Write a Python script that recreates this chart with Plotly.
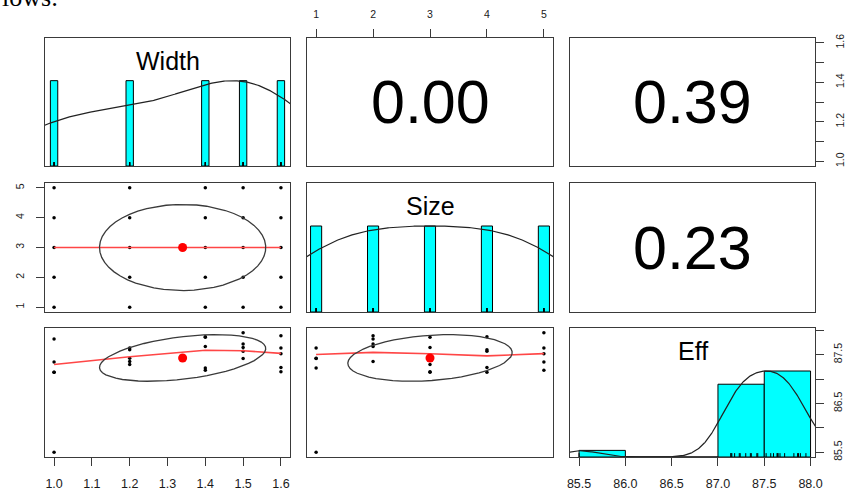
import numpy as np
import plotly.graph_objects as go

# ---------------- data ----------------
var_names = ["Width", "Size", "Eff"]
width_levels = [1.0, 1.2, 1.4, 1.5, 1.6]
size_levels = [1, 2, 3, 4, 5]
# Eff for Size 1..5 at each Width level
eff_w10 = [85.50, 87.82, 87.14, 87.14, 87.35]
eff_w12 = [87.43, 87.36, 87.30, 87.60, 87.64]
eff_w14 = [87.23, 87.67, 87.86, 87.87, 87.18]
eff_w15 = [87.42, 87.72, 87.65, 87.57, 87.95]
eff_w16 = [87.64, 87.89, 87.15, 87.24, 87.52]
corr_labels = ["0.00", "0.39", "0.23"]   # Width-Size, Width-Eff, Size-Eff
width_ticks = [1.0, 1.1, 1.2, 1.3, 1.4, 1.5, 1.6]
width_ticktext = ["1.0", "1.1", "1.2", "1.3", "1.4", "1.5", "1.6"]
width_right_text = ["1.0", "", "1.2", "", "1.4", "", "1.6"]
size_ticks = [1, 2, 3, 4, 5]
eff_ticks = [85.5, 86.0, 86.5, 87.0, 87.5, 88.0]
eff_ticktext = ["85.5", "86.0", "86.5", "87.0", "87.5", "88.0"]
eff_right_text = ["85.5", "", "86.5", "", "87.5", ""]
eff_breaks = [85.5, 86.0, 86.5, 87.0, 87.5, 88.0]

Width = np.repeat(width_levels, len(size_levels)).astype(float)
Size = np.tile(size_levels, len(width_levels)).astype(float)
Eff = np.array(eff_w10 + eff_w12 + eff_w14 + eff_w15 + eff_w16, float)
data = [Width, Size, Eff]

# ---------------- helpers (psych::pairs.panels logic) ----------------
def ext_range(v):
    lo, hi = v.min(), v.max()
    d = (hi - lo) * 0.04
    return [lo - d, hi + d]

def kde_curve(v):
    n = len(v)
    sd = v.std(ddof=1)
    q1, q3 = np.percentile(v, [25, 75])
    bw = 1.06 * min(sd, (q3 - q1) / 1.34) * n ** (-0.2) * 1.2
    grid = np.linspace(v.min() - 3 * bw, v.max() + 3 * bw, 512)
    dens = np.exp(-0.5 * ((grid[:, None] - v[None, :]) / bw) ** 2).sum(axis=1)
    return grid, dens / dens.max()

def lowess(x, y, f=2 / 3, iters=3):
    order = np.argsort(x, kind="stable")
    xs = np.asarray(x, float)[order]
    ys = np.asarray(y, float)[order]
    n = len(xs)
    ns = max(min(int(f * n + 1e-7), n), 2)
    rw = np.ones(n)
    fit = np.zeros(n)
    rng = xs[-1] - xs[0]
    for it in range(iters + 1):
        for i in range(n):
            d = np.abs(xs - xs[i])
            h = np.sort(d)[ns - 1]
            if h > 0:
                u = d / h
                w = np.where(d <= 0.001 * h, 1.0, np.where(d <= 0.999 * h, (1 - u ** 3) ** 3, 0.0))
            else:
                w = np.where(d == 0, 1.0, 0.0)
            w = w * rw
            if w.sum() <= 0:
                fit[i] = ys[i]
                continue
            w = w / w.sum()
            a = (w * xs).sum()
            c = (w * (xs - a) ** 2).sum()
            if h > 0 and np.sqrt(c) > 0.001 * rng:
                b = (xs[i] - a) / c
                w = w * (b * (xs - a) + 1)
            fit[i] = (w * ys).sum()
        if it == iters:
            break
        res = ys - fit
        cmad = 6 * np.median(np.abs(res))
        if cmad < 1e-7 * np.mean(np.abs(ys)):
            break
        r = np.abs(res) / cmad
        rw = np.where(r <= 0.001, 1.0, np.where(r > 0.999, 0.0, (1 - r ** 2) ** 2))
    return xs, fit

def ellipse(xm, ym, xsd, ysd, r, seg=51):
    ang = np.arange(seg + 1) * 2 * np.pi / seg
    uc = np.column_stack([np.cos(ang), np.sin(ang)])
    theta = np.sign(r) / np.sqrt(2) if abs(r) > 1e-12 else 1 / np.sqrt(2)
    shape = np.diag([np.sqrt(1 + r), np.sqrt(1 - r)]) @ np.array([[theta, theta], [-theta, theta]])
    e = uc @ shape
    return e[:, 0] * xsd + xm, e[:, 1] * ysd + ym

# ---------------- layout geometry ----------------
W, H = 845, 491
col_px = [(45, 290), (307, 553), (570, 815)]
row_px = [(38, 166), (183, 312), (328, 457)]
LINE = "#3a3a3a"
TXT = "#1a1a1a"
FONT = "Liberation Sans, Arial, sans-serif"

def xdom(c):
    return [col_px[c][0] / W, col_px[c][1] / W]

def ydom(r):
    return [1 - row_px[r][1] / H, 1 - row_px[r][0] / H]

def sid(k):
    return "" if k == 1 else str(k)

ranges = [ext_range(v) for v in data]

fig = go.Figure()
layout = dict(width=W, height=H, margin=dict(l=0, r=0, t=0, b=0, autoexpand=False),
              paper_bgcolor="white", plot_bgcolor="white", showlegend=False,
              font=dict(family=FONT, color=TXT), annotations=[])

def k_of(r, c):
    return r * 3 + c + 1

def axes(k):
    return dict(xaxis="x" + sid(k), yaxis="y" + sid(k))

for r in range(3):
    for c in range(3):
        k = k_of(r, c)
        xr = ranges[c]
        yr = [0, 1.5] if r == c else ranges[r]
        base = dict(showline=True, mirror=True, linecolor=LINE, linewidth=1.3,
                    showgrid=False, zeroline=False, showticklabels=False, ticks="",
                    fixedrange=True, automargin=False)
        layout["xaxis" + sid(k)] = dict(base, domain=xdom(c), range=xr, anchor="y" + sid(k))
        layout["yaxis" + sid(k)] = dict(base, domain=ydom(r), range=yr, anchor="x" + sid(k))
        # invisible anchor trace so every panel (and its axes) is drawn
        fig.add_trace(go.Scatter(x=[xr[0]], y=[yr[0]], mode="markers", marker=dict(opacity=0),
                                 hoverinfo="skip", **axes(k)))

tick_common = dict(ticks="outside", ticklen=8, tickwidth=1.2, tickcolor=LINE,
                   showticklabels=True)
layout["xaxis7"].update(tick_common, tickvals=width_ticks, ticktext=width_ticktext,
                        tickfont=dict(size=12.5, color=TXT), ticklabelstandoff=7)
layout["xaxis9"].update(tick_common, tickvals=eff_ticks, ticktext=eff_ticktext,
                        tickfont=dict(size=12.5, color=TXT), ticklabelstandoff=7)
layout["xaxis2"].update(tick_common, side="top", tickvals=size_ticks,
                        ticktext=[str(s) for s in size_ticks],
                        tickfont=dict(size=10.5, color=TXT), ticklabelstandoff=7)
layout["yaxis4"].update(tick_common, tickvals=size_ticks,
                        ticktext=[str(s) for s in size_ticks], tickangle=-90,
                        tickfont=dict(size=10.5, color=TXT), ticklabelstandoff=8)
layout["yaxis3"].update(tick_common, side="right", tickvals=width_ticks,
                        ticktext=width_right_text, tickangle=-90,
                        tickfont=dict(size=10.5, color=TXT), ticklabelstandoff=7)
layout["yaxis10"] = dict(overlaying="y9", anchor="x9", side="right", range=ranges[2],
                         showgrid=False, zeroline=False, showline=False, automargin=False,
                         tickvals=eff_ticks, ticktext=eff_right_text, tickangle=-90,
                         tickfont=dict(size=10.5, color=TXT), ticklabelstandoff=5,
                         fixedrange=True, **tick_common)
fig.add_trace(go.Scatter(x=[ranges[2][0]], y=[ranges[2][0]], xaxis="x9", yaxis="y10",
                         mode="markers", marker=dict(opacity=0), hoverinfo="skip"))

# ---------------- diagonal: histograms + density + rug ----------------
for i, v in enumerate(data):
    k = k_of(i, i)
    ax = axes(k)
    vals, counts = np.unique(v, return_counts=True)
    if len(vals) < 11:
        inter = np.min(np.diff(vals)) * (len(vals) - 1) / 41
        heights = counts / counts.max()
        fig.add_trace(go.Bar(x=vals, y=heights, width=2 * inter, **ax,
                             marker=dict(color="#00FFFF", line=dict(color="black", width=1))))
    else:
        br = np.array(eff_breaks)
        cnt = []
        for j in range(len(br) - 1):
            lo, hi = br[j], br[j + 1]
            if j == 0:
                cnt.append(int(np.sum((v >= lo) & (v <= hi))))
            else:
                cnt.append(int(np.sum((v > lo) & (v <= hi))))
        cnt = np.array(cnt, float)
        centers = (br[:-1] + br[1:]) / 2
        fig.add_trace(go.Bar(x=centers, y=cnt / cnt.max(), width=np.diff(br), **ax,
                             marker=dict(color="#00FFFF", line=dict(color="black", width=1))))
    gx, gy = kde_curve(v)
    fig.add_trace(go.Scatter(x=gx, y=gy, mode="lines", **ax,
                             line=dict(color="#222222", width=1.2), hoverinfo="skip"))
    rx, ry = [], []
    for val in v:
        rx += [val, val, None]
        ry += [0, 0.045, None]
    fig.add_trace(go.Scatter(x=rx, y=ry, mode="lines", **ax,
                             line=dict(color="black", width=1), hoverinfo="skip"))
    layout["annotations"].append(dict(
        x=0.5, y=1 - 23 / 129, xref="x" + sid(k) + " domain", yref="y" + sid(k) + " domain",
        text=var_names[i], showarrow=False, font=dict(size=25, color="black", family=FONT),
        xanchor="center", yanchor="middle"))

# ---------------- lower panels: scatter, lowess, ellipse ----------------
for r in range(3):
    for c in range(r):
        k = k_of(r, c)
        ax = axes(k)
        x, y = data[c], data[r]
        fig.add_trace(go.Scatter(x=x, y=y, mode="markers", **ax,
                                 marker=dict(color="black", size=3.5), hoverinfo="skip"))
        lx, ly = lowess(x, y)
        fig.add_trace(go.Scatter(x=lx, y=ly, mode="lines", **ax,
                                 line=dict(color="rgb(255,70,70)", width=1.6), hoverinfo="skip"))
        rr = np.corrcoef(x, y)[0, 1]
        ex, ey = ellipse(x.mean(), y.mean(), x.std(ddof=1), y.std(ddof=1), rr)
        fig.add_trace(go.Scatter(x=ex, y=ey, mode="lines", **ax,
                                 line=dict(color="#3a3a3a", width=1.3), hoverinfo="skip"))
        fig.add_trace(go.Scatter(x=[x.mean()], y=[y.mean()], mode="markers", **ax,
                                 marker=dict(color="red", size=9), hoverinfo="skip"))

# ---------------- upper panels: correlations ----------------
pairs = [(0, 1), (0, 2), (1, 2)]
for (r, c), lab in zip(pairs, corr_labels):
    k = k_of(r, c)
    layout["annotations"].append(dict(
        x=0.5, y=0.5, xref="x" + sid(k) + " domain", yref="y" + sid(k) + " domain", text=lab,
        showarrow=False, font=dict(size=61, color="black", family=FONT),
        xanchor="center", yanchor="middle"))

# fragment of the surrounding document text at the top-left
layout["annotations"].append(dict(
    x=0, y=1, xref="paper", yref="paper", text="lows:", showarrow=False,
    xanchor="left", yanchor="top", yshift=19,
    font=dict(size=26, family="Liberation Serif, Times New Roman, serif", color="black")))

fig.update_layout(**layout)
fig.write_html("out.html", config={"displayModeBar": False},
               post_script="document.body.style.margin='0';document.body.style.padding='0';")
